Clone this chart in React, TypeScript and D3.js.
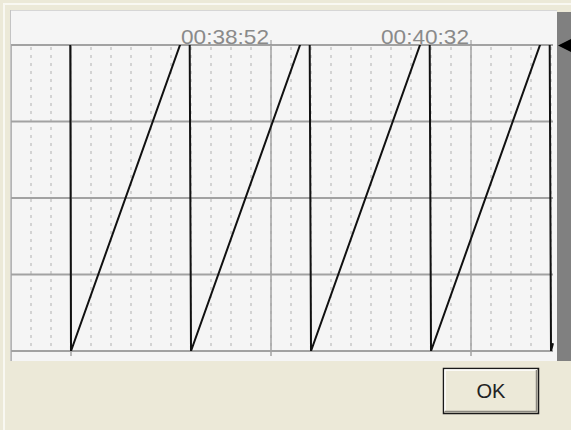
import React from "react";
import * as d3 from "d3";

// ---- data ----
const domainTimes = ["00:36:42.000", "00:41:13.000"];
const valueDomain = [0, 100];
const valueGrid = [0, 25, 50, 75, 100];
const majorTickTimes = ["00:37:12.000", "00:38:52.000", "00:40:32.000"];
const labeledTickTimes = ["00:38:52.000", "00:40:32.000"];
const minorStepSeconds = 10;

const sampleTimes = [
  "00:37:11.600", "00:37:12.000",
  "00:38:11.300", "00:38:12.000",
  "00:39:11.300", "00:39:12.000",
  "00:40:11.300", "00:40:12.000",
  "00:41:11.300", "00:41:12.000",
  "00:41:13.000",
];
const sampleValues = [108.8, 0, 108.8, 0, 108.8, 0, 108.8, 0, 108.8, 0, 2.5];

const parse = d3.utcParse("%H:%M:%S.%L");
const fmt = d3.utcFormat("%H:%M:%S");

export default function App() {
  const W = 571, H = 430;
  const left = 11, right = 553, top = 45, bottom = 351;
  const x = d3.scaleUtc()
    .domain(domainTimes.map((s) => parse(s) as Date))
    .range([left, right]);
  const y = d3.scaleLinear().domain(valueDomain).range([bottom, top]);

  const majors = majorTickTimes.map((s) => parse(s) as Date);
  const labeled = labeledTickTimes.map((s) => parse(s) as Date);
  const [d0, d1] = x.domain();
  const minors: Date[] = [];
  for (let k = -100; k < 100; k++) {
    const t = d3.utcSecond.offset(majors[0], k * minorStepSeconds);
    if (t > d0 && t < d1) minors.push(t);
  }

  const pts = sampleTimes.map((s, i) => [parse(s) as Date, sampleValues[i]] as [Date, number]);
  const line = d3.line<[Date, number]>().x((d) => x(d[0])).y((d) => y(d[1]));

  const gridColor = "#a2a2a2";
  const font = "'Liberation Sans', Arial, sans-serif";

  return (
    <svg width={W} height={H} style={{ position: "absolute", left: 0, top: 0, display: "block" }}>
      <defs>
        <clipPath id="plotclip">
          <rect x={left} y={top} width={right - left + 1} height={bottom - top} />
        </clipPath>
      </defs>
      {/* window background */}
      <rect x={0} y={0} width={W} height={H} fill="#ece9d8" />
      <rect x={3} y={3} width={W - 3} height={2} fill="#f9f8f2" />
      <rect x={3} y={3} width={2} height={H - 3} fill="#f9f8f2" />
      {/* panel */}
      <rect x={10} y={10} width={547} height={351} fill="#f5f5f5" />
      <line x1={10} x2={557} y1={10.5} y2={10.5} stroke="#d6d6d6" />
      <line x1={10.5} x2={10.5} y1={10} y2={361} stroke="#c4c4c4" />
      <line x1={11.5} x2={11.5} y1={top} y2={361} stroke="#b4b4b4" />
      {/* scrollbar */}
      <rect x={557} y={12} width={14} height={349} fill="#808080" />
      {/* minor dotted grid */}
      {minors.map((t, i) => (
        <line key={"m" + i} x1={x(t)} x2={x(t)} y1={top + 2} y2={bottom - 1}
          stroke="#bdbdbd" strokeWidth={1.2} strokeDasharray="3,5" />
      ))}
      {/* horizontal grid */}
      {valueGrid.map((v, i) => (
        <line key={"h" + i} x1={left} x2={right} y1={y(v)} y2={y(v)} stroke={gridColor} strokeWidth={2} />
      ))}
      {/* major vertical grid */}
      {majors.map((t, i) => (
        <line key={"M" + i} x1={x(t)} x2={x(t)} y1={top} y2={bottom + 5} stroke={gridColor} strokeWidth={1.5} />
      ))}
      {/* labeled ticks */}
      {labeled.map((t, i) => (
        <g key={"L" + i}>
          <line x1={x(t)} x2={x(t)} y1={top - 5} y2={top} stroke="#909090" strokeWidth={1} />
          <text x={x(t) - 2} y={43.5} textAnchor="end" fontFamily={font} fontSize={21}
            fill="#8a8a8a" textLength={88} lengthAdjust="spacingAndGlyphs">{fmt(t)}</text>
        </g>
      ))}
      {/* data */}
      <path d={line(pts) || ""} fill="none" stroke="#111" strokeWidth={2} clipPath="url(#plotclip)" />
      {/* marker */}
      <path d="M558,45.5 L571,39 L571,52 Z" fill="#000" />
      {/* OK button */}
      <rect x={443.5} y={368.5} width={95} height={45} fill="#ece9d8" stroke="#1a1a1a" strokeWidth={1.5} />
      <path d="M445,411 L445,370 L537,370" fill="none" stroke="#ffffff" strokeWidth={1.5} />
      <path d="M445,411.5 L536.5,411.5 L536.5,370" fill="none" stroke="#8a8880" strokeWidth={1.5} />
      <text x={491} y={397.5} textAnchor="middle" fontFamily={font} fontSize={21} fill="#222"
        textLength={29} lengthAdjust="spacingAndGlyphs">OK</text>
    </svg>
  );
}
